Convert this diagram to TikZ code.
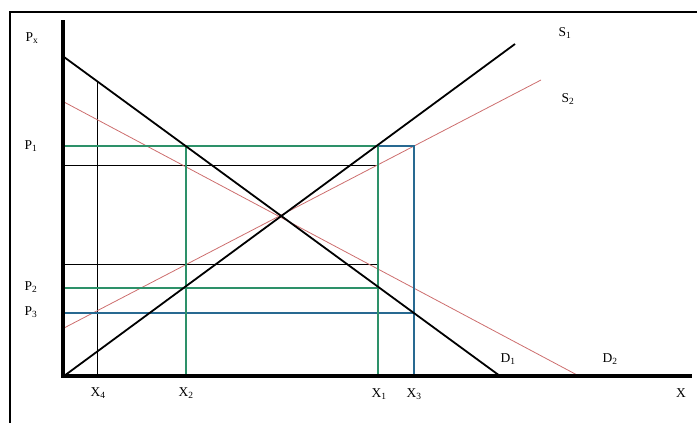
\documentclass[tikz,border=0pt]{standalone}
\usepackage{fontspec}
\setmainfont{Liberation Serif}
\usepackage{xcolor}
\usetikzlibrary{positioning,calc}

\definecolor{grn}{RGB}{45,145,105}
\definecolor{blu}{RGB}{40,105,145}
\definecolor{rd}{RGB}{205,110,110}

\tikzset{
  axis/.style={line width=3.5pt,line cap=rect},
  curve/.style={line width=1.8pt},
  shift curve/.style={rd,line width=0.8pt},
  grn line/.style={grn,line width=1.8pt},
  blu line/.style={blu,line width=1.8pt},
  thin line/.style={black,line width=0.7pt},
  lbl/.style={font=\fontsize{13.5}{16}\selectfont,inner sep=1pt}
}

\begin{document}
\begin{tikzpicture}[x=1pt,y=-1pt]
  \useasboundingbox (0,0) rectangle (697,423);
  \draw[line width=2.5pt] (10,12) rectangle (712,440);

  % points
  \coordinate (o) at (63,376);
  \coordinate (ytop) at (63,22);
  \coordinate (xend) at (690,376);
  \coordinate (d1a) at (64,57);   \coordinate (d1b) at (500,376);
  \coordinate (d2a) at (64,102);  \coordinate (d2b) at (579,376);
  \coordinate (s1a) at (64,376);  \coordinate (s1b) at (515,44);
  \coordinate (s2a) at (64,328);  \coordinate (s2b) at (541,80);
  \coordinate (p1) at (63,146);   \coordinate (p1x1) at (378,146);  \coordinate (p1x3) at (414,146);
  \coordinate (p1x2) at (186,146);
  \coordinate (p2) at (63,288);   \coordinate (p2x1) at (378,288);
  \coordinate (p3) at (63,313);   \coordinate (p3x3) at (414,313);
  \coordinate (ha) at (63,165);   \coordinate (hb) at (378,165);
  \coordinate (la) at (63,264);   \coordinate (lb) at (378,264);
  \coordinate (x4top) at (97,81); \coordinate (x4) at (97,376);
  \coordinate (x2) at (186,376);  \coordinate (x1) at (378,376);  \coordinate (x3) at (414,376);

  % thin guide lines
  \draw[thin line] (ha) -- (hb);
  \draw[thin line] (la) -- (lb);
  \draw[thin line] (x4top) -- (x4);

  % shifted curves
  \draw[shift curve] (d2a) -- (d2b);
  \draw[shift curve] (s2a) -- (s2b);

  % green and blue boxes
  \draw[blu line] (p1x1) -- (p1x3) -- (x3);
  \draw[blu line] (p3) -- (p3x3);
  \draw[grn line] (p1) -- (p1x1) -- (x1);
  \draw[grn line] (p1x2) -- (x2);
  \draw[grn line] (p2) -- (p2x1);

  % demand and supply
  \draw[curve] (d1a) -- (d1b);
  \draw[curve] (s1a) -- (s1b);

  % axes
  \draw[axis] (ytop) -- (o) -- (xend);

  % labels
  \node[lbl] (lpx) at (32,38) {P\textsubscript{x}};
  \node[lbl] (lp1) at (31,146) {P\textsubscript{1}};
  \node[lbl] (lp2) at (31,287) {P\textsubscript{2}};
  \node[lbl] (lp3) at (31,312) {P\textsubscript{3}};
  \node[lbl] (lx4) at (98,393) {X\textsubscript{4}};
  \node[lbl] (lx2) at (186,393) {X\textsubscript{2}};
  \node[lbl] (lx1) at (379,394) {X\textsubscript{1}};
  \node[lbl] (lx3) at (414,394) {X\textsubscript{3}};
  \node[lbl] (lx) at (681,393) {X};
  \node[lbl] (ld1) at (508,359) {D\textsubscript{1}};
  \node[lbl] (ld2) at (610,359) {D\textsubscript{2}};
  \node[lbl] (ls1) at (565,33) {S\textsubscript{1}};
  \node[lbl] (ls2) at (568,99) {S\textsubscript{2}};
\end{tikzpicture}
\end{document}
